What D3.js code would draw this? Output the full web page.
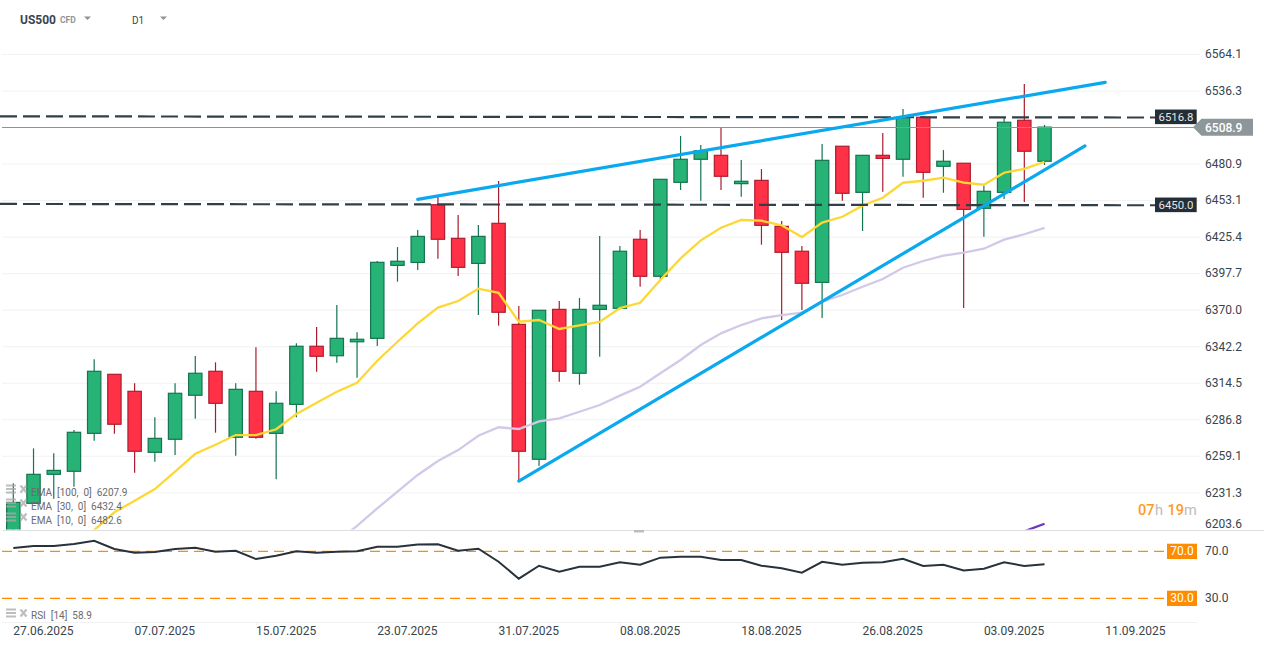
<!DOCTYPE html>
<html>
<head>
<meta charset="utf-8">
<script src="https://cdn.jsdelivr.net/npm/d3@7/dist/d3.min.js"></script>
<style>
html,body{margin:0;padding:0;background:#fff;overflow:hidden;}
svg{display:block;}
text{font-family:Roboto,sans-serif;}
</style>
</head>
<body>
<svg id="chart" width="1264" height="647"></svg>
<script>
var dates = ["27.06.2025","30.06.2025","01.07.2025","02.07.2025","03.07.2025","04.07.2025","07.07.2025","08.07.2025","09.07.2025","10.07.2025","11.07.2025",
	"14.07.2025","15.07.2025","16.07.2025","17.07.2025","18.07.2025","21.07.2025","22.07.2025","23.07.2025","24.07.2025","25.07.2025",
	"28.07.2025","29.07.2025","30.07.2025","31.07.2025","01.08.2025","04.08.2025","05.08.2025","06.08.2025","07.08.2025","08.08.2025",
	"11.08.2025","12.08.2025","13.08.2025","14.08.2025","15.08.2025","18.08.2025","19.08.2025","20.08.2025","21.08.2025","22.08.2025",
	"25.08.2025","26.08.2025","27.08.2025","28.08.2025","29.08.2025","01.09.2025","02.09.2025","03.09.2025","04.09.2025","05.09.2025",
	"08.09.2025","09.09.2025","10.09.2025","11.09.2025"];
var opens = [6195,6223.4,6245.4,6247.7,6276.5,6321.3,6308.4,6262.1,6272.0,6305.4,6323.6,6273.5,6308.4,6276.5,6298.5,6342.6,6335.4,6346.0,6348.6,6404.0,6406.2,6450.0,6424.5,6405.5,6435.9,6359.2,6256.8,6370.6,6322.1,6370.6,6371.4,6423.8,6395.7,6467.0,6484.5,6487.5,6466.0,6468.5,6433.6,6414.7,6391.1,6494.4,6459.4,6487.5,6484.5,6516.4,6479.2,6481.5,6447.3,6459.4,6514.1,6483.0];
var highs = [6238.6,6265.1,6261.3,6279.0,6332.7,6321.3,6314.5,6288.7,6314.5,6335.2,6330.4,6314.5,6341.8,6308.4,6344.8,6357.2,6373.9,6353.2,6407.3,6417.9,6430.8,6456.1,6442.2,6434.6,6468.0,6373.1,6369.9,6376.9,6379.2,6426.3,6418.7,6430.8,6469.3,6502.2,6495.3,6508.5,6484.0,6477.1,6437.7,6418.7,6496.1,6494.4,6487.5,6504.4,6522.7,6517.4,6491.5,6481.5,6464.2,6516.6,6541.6,6510.5];
var lows = [6190,6223.4,6226.9,6236.0,6270.9,6276.2,6246.6,6255.0,6260.0,6287.6,6277.0,6259.5,6272.4,6241.6,6288.7,6323.3,6330.1,6318.7,6342.8,6391.6,6400.5,6409.0,6395.9,6366.3,6358.2,6241.1,6251.7,6315.7,6313.4,6334.7,6370.6,6387.8,6393.4,6461.2,6453.1,6461.2,6456.1,6419.7,6362.5,6370.1,6364.0,6453.1,6430.1,6459.9,6471.3,6455.3,6459.1,6371.6,6425.7,6454.4,6452.1,6480.2];
var closes = [6224.1,6245.4,6248.4,6277.3,6323.6,6283.4,6262.9,6272.7,6306.9,6322.1,6299.3,6309.9,6273.5,6299.3,6342.6,6335.0,6348.6,6347.9,6406.3,6407.1,6426.0,6423.8,6402.5,6426.0,6368.4,6262.9,6369.9,6323.6,6370.6,6373.7,6414.7,6395.7,6469.3,6484.5,6491.0,6471.6,6467.8,6434.4,6413.9,6390.4,6483.7,6458.7,6487.5,6485.2,6516.4,6474.6,6483.0,6446.5,6460.2,6512.6,6490.6,6508.9];
var ema10 = [null,null,null,6190,6203.1,6216.6,6225.4,6234.2,6247.4,6261.0,6267.9,6275.2,6275.2,6279.6,6291.2,6299.7,6308.1,6314.9,6331.6,6346.0,6360.0,6371.9,6376.9,6386.3,6383.2,6361.2,6362.5,6355.7,6358.5,6361.0,6371.6,6375.6,6392.9,6409.3,6423.0,6432.6,6438.4,6437.9,6434.4,6425.5,6436.4,6440.9,6449.3,6455.3,6466.7,6468.2,6470.5,6466.7,6465.2,6474.3,6477.3,6482.6];
var ema30 = [null,null,null,null,null,null,null,null,null,null,null,null,null,null,null,null,6194.8,6206.2,6219.6,6232.2,6244.9,6255.5,6263.8,6274.7,6281.1,6279.8,6285.6,6287.9,6292.9,6298.0,6305.1,6311.9,6322.1,6332.2,6343.5,6352.4,6358.7,6363.8,6366.3,6368.1,6376.4,6381.5,6387.8,6393.6,6402.2,6407.3,6411.3,6413.6,6416.6,6423.5,6427.6,6432.4];
var ema100 = [6196,6202.2,6207.9];
var ema100Dates = ["04.09.2025","05.09.2025","08.09.2025"];
var rsi = [72.8,74.5,74.5,76.2,79.0,72.0,68.8,69.4,72.0,73.1,69.7,70.5,63.4,66.3,70.0,68.8,69.7,70.0,73.9,73.9,75.8,76.0,70.5,72.2,61.1,46.7,57.7,52.6,56.9,56.9,60.6,58.6,64.6,65.4,65.4,62.6,62.6,57.7,55.5,51.8,61.1,58.6,60.3,60.6,63.7,57.5,58.6,53.7,55.2,60.6,57.5,58.9];
var priceTicks = [6564.1,6536.3,6480.9,6453.1,6425.4,6397.7,6370.0,6342.2,6314.5,6286.8,6259.1,6231.3,6203.6];
var dateTicks = ["27.06.2025","07.07.2025","15.07.2025","23.07.2025","31.07.2025","08.08.2025","18.08.2025","26.08.2025","03.09.2025","11.09.2025"];
var rsiTicks = [70,30];
var lastPrice = 6508.9;
var levels = [{label:"6516.8",left:6517.1,right:6516.2},{label:"6450.0",left:6450.6,right:6449.6}];
var trendUpper = {from:"25.07.2025",to:"11.09.2025",v0:6454.1,v1:6542.9};
var trendLower = {from:"01.08.2025",to:"10.09.2025",v0:6240.3,v1:6494.6};
var legendRows = ["EMA  [100,  0]  6207.9","EMA  [30,  0]  6432.4","EMA  [10,  0]  6482.6"];

var GRID = "#f1f2f3", INK = "#38454d", DARK = "#27323a", ORANGE = "#ff8c00";
var RIGHT = 1197;

var svg = d3.select("#chart");
var x = d3.scalePoint().domain(dates).range([13.3,1105.2]);
var y = d3.scaleLinear().domain([6564.1,6203.6]).range([54.4,529.4]);
var yr = d3.scaleLinear().domain([70,30]).range([551.3,598.3]);

function draw(){
	svg.append("defs").append("clipPath").attr("id","pane")
		.append("rect").attr("x",0).attr("y",0).attr("width",1264).attr("height",529.5);

	// grid
	svg.append("g").selectAll("line").data(priceTicks.slice(0,-1)).join("line")
		.attr("x1",2).attr("x2",RIGHT+3).attr("y1",function(d){return y(d);}).attr("y2",function(d){return y(d);})
		.attr("stroke",GRID).attr("stroke-width",1);

	// pane divider and time axis rule
	svg.append("line").attr("x1",3).attr("x2",1264).attr("y1",530.5).attr("y2",530.5).attr("stroke","#dcdedf");
	svg.append("rect").attr("x",634).attr("y",530).attr("width",10).attr("height",2.5).attr("fill","#bdbdbd");
	svg.append("line").attr("x1",2).attr("x2",RIGHT).attr("y1",622.5).attr("y2",622.5).attr("stroke",GRID);

	var main = svg.append("g").attr("clip-path","url(#pane)");
	drawCandles(main);

	var line = d3.line().defined(function(d){return d!=null;})
		.x(function(d,i){return x(dates[i]);}).y(function(d){return y(d);});
	main.append("path").datum(ema30).attr("d",line).attr("fill","none").attr("stroke","#d3c8e8").attr("stroke-width",2.3);
	main.append("path").datum(ema10).attr("d",line).attr("fill","none").attr("stroke","#fdd835").attr("stroke-width",2.3);
	var line100 = d3.line().x(function(d,i){return x(ema100Dates[i]);}).y(function(d){return y(d);});
	main.append("path").datum(ema100).attr("d",line100).attr("fill","none").attr("stroke","#673ab7").attr("stroke-width",2.3);

	// horizontal levels
	svg.append("g").selectAll("line").data(levels).join("line")
		.attr("x1",0).attr("x2",1155)
		.attr("y1",function(d){return y(d.left);}).attr("y2",function(d){return y(d.right);})
		.attr("stroke","#333f47").attr("stroke-width",2.2).attr("stroke-dasharray","17 6");

	// last price
	svg.append("line").attr("x1",2).attr("x2",RIGHT+3).attr("y1",Math.floor(y(lastPrice))+0.5).attr("y2",Math.floor(y(lastPrice))+0.5)
		.attr("stroke","#8b9498").attr("stroke-width",1);

	// trend channel
	[trendUpper,trendLower].forEach(function(t){
		svg.append("line").attr("x1",x(t.from)).attr("x2",x(t.to)).attr("y1",y(t.v0)).attr("y2",y(t.v1))
			.attr("stroke","#0aa8ef").attr("stroke-width",3.2).attr("stroke-linecap","round");
	});

	drawRsi();
	drawAxes();
	drawTags();
	drawHeader();
	drawLegend();
}

function drawCandles(g){
	var w = x.step()*0.66;
	var c = g.selectAll("g.candle").data(d3.range(opens.length)).join("g").attr("class","candle")
		.attr("transform",function(i){return "translate("+x(dates[i])+",0)";});
	c.append("line")
		.attr("y1",function(i){return y(highs[i]);}).attr("y2",function(i){return y(lows[i]);})
		.attr("stroke",function(i){return closes[i]>=opens[i]?"#14744f":"#a91c2c";}).attr("stroke-width",1.2);
	c.append("rect").attr("x",-w/2).attr("width",w)
		.attr("y",function(i){return y(Math.max(opens[i],closes[i]));})
		.attr("height",function(i){return Math.abs(y(opens[i])-y(closes[i]));})
		.attr("fill",function(i){return closes[i]>=opens[i]?"#27b276":"#ff3146";})
		.attr("stroke",function(i){return closes[i]>=opens[i]?"#14744f":"#b01c2e";}).attr("stroke-width",1.2);
}

function drawRsi(){
	svg.append("g").selectAll("line").data(rsiTicks).join("line")
		.attr("x1",2).attr("x2",1165).attr("y1",function(d){return yr(d);}).attr("y2",function(d){return yr(d);})
		.attr("stroke",ORANGE).attr("stroke-width",1.3).attr("stroke-dasharray","10 6");
	var line = d3.line().x(function(d,i){return x(dates[i]);}).y(function(d){return yr(d);});
	svg.append("path").datum(rsi).attr("d",line).attr("fill","none").attr("stroke",DARK).attr("stroke-width",2);
}

function drawAxes(){
	var ya = svg.append("g").attr("transform","translate(1205,-0.5)")
		.call(d3.axisRight(y).tickValues(priceTicks).tickFormat(d3.format(".1f")).tickSize(0).tickPadding(0));
	ya.select(".domain").remove();
	ya.selectAll("text").attr("font-size",12).attr("fill",INK).attr("font-family","Roboto,sans-serif");
	// the lowest label sits just above the pane edge
	ya.selectAll(".tick").filter(function(d){return d==priceTicks[priceTicks.length-1];}).select("text").attr("y",-5.5);

	var ra = svg.append("g").attr("transform","translate(1205,-0.5)")
		.call(d3.axisRight(yr).tickValues(rsiTicks).tickFormat(d3.format(".1f")).tickSize(0).tickPadding(0));
	ra.select(".domain").remove();
	ra.selectAll("text").attr("font-size",12).attr("fill",INK).attr("font-family","Roboto,sans-serif");

	var xa = svg.append("g").attr("transform","translate(0,622.5)")
		.call(d3.axisBottom(x).tickValues(dateTicks).tickSize(3).tickPadding(1.2));
	xa.select(".domain").remove();
	xa.selectAll("line").attr("stroke",GRID);
	xa.selectAll("text").attr("font-size",12).attr("fill",INK).attr("text-anchor","start").attr("x",-0.5).attr("font-family","Roboto,sans-serif");
}

function drawTags(){
	levels.forEach(function(l){
		var cy = y(+l.label);
		svg.append("rect").attr("x",1155).attr("y",cy-7.2).attr("width",41.7).attr("height",14.6).attr("fill","#232e36");
		svg.append("text").attr("x",1176).attr("y",cy+4).attr("text-anchor","middle")
			.attr("font-size",11.4).attr("fill","#e3e6e8").text(l.label);
	});
	var ly = y(lastPrice);
	svg.append("path").attr("transform","translate(0,"+ly+")")
		.attr("d","M1193,0L1201.5,-8.3H1253V8.7H1201.5Z").attr("fill","#8d9699");
	svg.append("text").attr("x",1205).attr("y",ly+4.5).attr("font-size",12).attr("font-weight",500).attr("fill","#fff").text(lastPrice.toFixed(1));

	rsiTicks.forEach(function(v){
		svg.append("rect").attr("x",1167).attr("y",yr(v)-7.6).attr("width",30).attr("height",15.3).attr("fill",ORANGE);
		svg.append("text").attr("x",1182).attr("y",yr(v)+4).attr("text-anchor","middle")
			.attr("font-size",12).attr("fill","#fff").text(v.toFixed(1));
	});

	var t = svg.append("text").attr("y",515).attr("font-size",14.5).attr("font-weight",500);
	t.append("tspan").attr("x",1138).attr("fill","#ff9a1f").text("07");
	t.append("tspan").attr("x",1155).attr("fill","#b9bdc0").attr("font-weight",400).text("h");
	t.append("tspan").attr("x",1167.5).attr("fill","#ff9a1f").text("19");
	t.append("tspan").attr("x",1184).attr("fill","#b9bdc0").attr("font-weight",400).text("m");
}

function drawHeader(){
	svg.append("text").attr("x",20).attr("y",23.5).attr("font-size",12).attr("font-weight",700).attr("fill","#38454d").text("US500");
	svg.append("text").attr("x",60).attr("y",22.5).attr("font-size",8.5).attr("font-weight",700).attr("fill","#8e9396").text("CFD");
	svg.append("text").attr("x",132).attr("y",23.5).attr("font-size",10).attr("fill","#38454d").text("D1");
	[84,160].forEach(function(px){
		svg.append("path").attr("d","M"+px+",16.5h7l-3.5,3.5z").attr("fill","#8e9396");
	});
}

function legendIcons(cy){
	var g = svg.append("g").attr("opacity",0.75);
	[-3.5,0,3.5].forEach(function(dy){
		g.append("rect").attr("x",6).attr("y",cy+dy-1).attr("width",10).attr("height",2).attr("fill","#a9a9a9");
	});
	g.append("path").attr("d","M20.5,"+(cy-3.5)+"l6,7m0,-7l-6,7").attr("stroke","#a9a9a9").attr("stroke-width",2.2).attr("fill","none");
}

function drawLegend(){
	legendRows.forEach(function(r,i){
		var cy = 489+i*14;
		legendIcons(cy);
		svg.append("text").attr("x",31).attr("y",cy+6.5).attr("font-size",10).attr("fill","#6b6b6b")
			.style("white-space","pre").text(r);
	});
	legendIcons(613);
	svg.append("text").attr("x",31).attr("y",619).attr("font-size",10).attr("fill","#6b6b6b")
		.style("white-space","pre").text("RSI  [14]  58.9");
}

draw();
</script>
</body>
</html>
